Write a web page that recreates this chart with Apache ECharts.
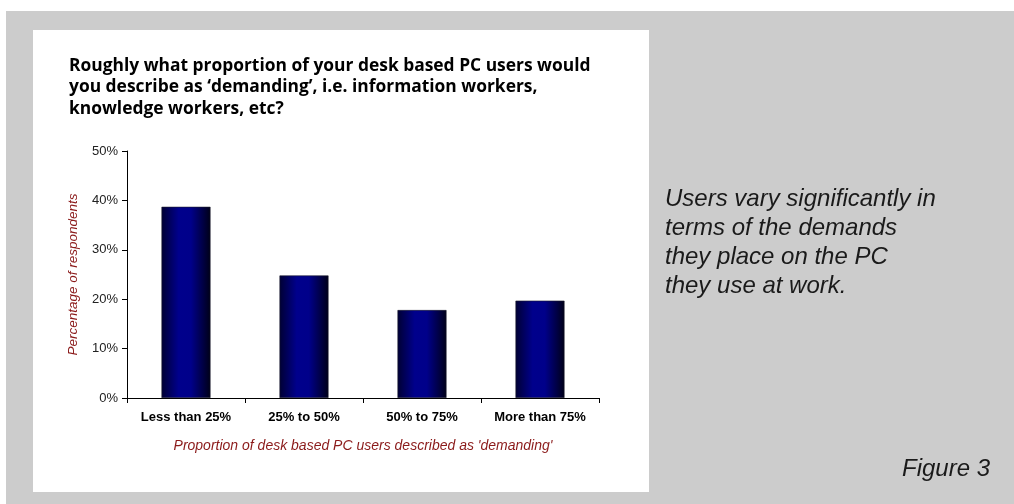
<!DOCTYPE html>
<html>
<head>
<meta charset="utf-8">
<script src="https://cdn.jsdelivr.net/npm/echarts@6/dist/echarts.min.js"></script>
<style>
  html, body { margin: 0; padding: 0; background: #ffffff; }
  #chart { width: 1014px; height: 504px; }
</style>
</head>
<body>
<div id="chart"></div>
<script>
// Survey question and answer buckets
const questionText = 'Roughly what proportion of your desk based PC users would\nyou describe as \u2018demanding\u2019, i.e. information workers,\nknowledge workers, etc?';
const categories = ['Less than 25%', '25% to 50%', '50% to 75%', 'More than 75%'];
// Share of respondents per bucket (%)
const respondentShare = [38.7, 24.8, 17.8, 19.7];
const yTicks = { min: 0, max: 50, interval: 10 };
const yAxisTitle = 'Percentage of respondents';
const xAxisTitle = "Proportion of desk based PC users described as 'demanding'";
const sideNote = 'Users vary significantly in\nterms of the demands\nthey place on the PC\nthey use at work.';
const figureLabel = 'Figure 3';

const chart = echarts.init(document.getElementById('chart'), null, { renderer: 'canvas' });

const barGradient = new echarts.graphic.LinearGradient(0, 0, 1, 0, [
  { offset: 0, color: '#000033' },
  { offset: 0.35, color: '#00008c' },
  { offset: 0.6, color: '#00008a' },
  { offset: 1, color: '#000018' }
]);

chart.setOption({
  backgroundColor: '#ffffff',
  animation: false,
  graphic: [
    { type: 'rect', z: -10, silent: true, shape: { x: 6, y: 11, width: 1008, height: 493 }, style: { fill: '#cccccc' } },
    { type: 'rect', z: -9, silent: true, shape: { x: 33, y: 30, width: 616, height: 462 }, style: { fill: '#ffffff' } }
  ],
  title: [
    {
      text: questionText,
      left: 64, top: 50,
      textStyle: { fontFamily: 'Open Sans', fontWeight: 'bold', fontSize: 17.4, lineHeight: 21.5, color: '#000000' }
    },
    {
      text: sideNote,
      left: 660, top: 180,
      textStyle: { fontFamily: 'Liberation Sans', fontStyle: 'italic', fontWeight: 'normal', fontSize: 24, lineHeight: 29, color: '#1a1a1a' }
    },
    {
      text: figureLabel,
      left: 897, top: 452,
      textStyle: { fontFamily: 'Liberation Sans', fontStyle: 'italic', fontWeight: 'normal', fontSize: 24, color: '#1a1a1a' }
    }
  ],
  grid: { left: 127, right: 415, top: 151, bottom: 106, containLabel: false },
  xAxis: {
    type: 'category',
    data: categories,
    name: xAxisTitle,
    nameLocation: 'middle',
    nameGap: 41,
    nameTextStyle: { fontFamily: 'Liberation Sans', fontStyle: 'italic', fontSize: 14, color: '#8b1a1a', verticalAlign: 'top' },
    axisLine: { lineStyle: { color: '#000000', width: 1 } },
    axisTick: { show: true, alignWithLabel: false, length: 5, inside: false, lineStyle: { color: '#000000' } },
    axisLabel: { fontFamily: 'Liberation Sans', fontWeight: 'bold', fontSize: 13, color: '#000000', margin: 13, interval: 0 },
    splitLine: { show: false }
  },
  yAxis: {
    type: 'value',
    min: yTicks.min, max: yTicks.max, interval: yTicks.interval,
    name: yAxisTitle,
    nameLocation: 'middle',
    nameGap: 47,
    nameTextStyle: { fontFamily: 'Liberation Sans', fontStyle: 'italic', fontSize: 13.5, color: '#8b1a1a' },
    axisLine: { show: true, lineStyle: { color: '#000000', width: 1 } },
    axisTick: { show: true, length: 5, lineStyle: { color: '#000000' } },
    axisLabel: { fontFamily: 'Liberation Sans', fontSize: 13, color: '#222222', margin: 9, formatter: '{value}%' },
    splitLine: { show: false }
  },
  series: [{
    type: 'bar',
    data: respondentShare,
    barWidth: 49,
    itemStyle: { color: barGradient, borderColor: '#1a1a2a', borderWidth: 0.6 }
  }]
});
</script>
</body>
</html>
